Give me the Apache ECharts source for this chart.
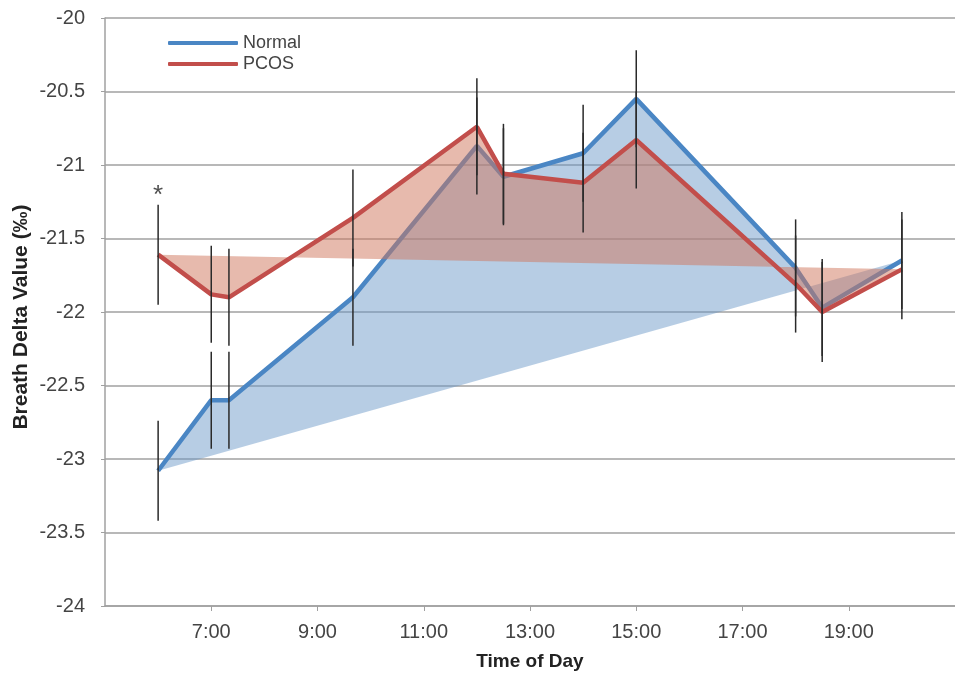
<!DOCTYPE html>
<html>
<head>
<meta charset="utf-8">
<script src="https://cdn.jsdelivr.net/npm/echarts@6/dist/echarts.min.js"></script>
<style>html,body{margin:0;padding:0;background:#fff;}#chart{width:955px;height:677px;}</style>
</head>
<body>
<div id="chart"></div>
<script>
// sampling times (hours of day)
var times = [6, 7, 7.333, 9.667, 12, 12.5, 14, 15, 18, 18.5, 20];
var normalValues = [-23.08, -22.60, -22.60, -21.90, -20.87, -21.08, -20.92, -20.55, -21.70, -21.97, -21.65];
var pcosValues   = [-21.61, -21.88, -21.90, -21.36, -20.74, -21.06, -21.12, -20.83, -21.81, -22.00, -21.71];
var normalErrors = [0.34, 0.33, 0.33, 0.33, 0.33, 0.33, 0.33, 0.33, 0.33, 0.33, 0.33];
var pcosErrors   = [0.34, 0.33, 0.33, 0.33, 0.33, 0.34, 0.34, 0.33, 0.33, 0.34, 0.34];
var yTicks = { min: -24, max: -20, step: 0.5 };
var xTicks = { min: 5, max: 21, step: 2 };
var annotations = [{ x: 6, y: -21.21, text: '*' }];

var FONT = '"Liberation Sans", Arial, sans-serif';
var BLUE = '#4a86c4', RED = '#c24e4b';
var BLUE_FILL = 'rgba(105,150,198,0.48)', RED_FILL = 'rgba(208,118,92,0.5)';

function pairs(xs, ys) { return xs.map(function (x, i) { return [x, ys[i]]; }); }
function errData(xs, ys, es) { return xs.map(function (x, i) { return [x, ys[i] - es[i], ys[i] + es[i]]; }); }

function polygonSeries(name, values, fill, z) {
  return {
    type: 'custom', name: name, z: z, silent: true,
    data: [[times[0], values[0]]],
    renderItem: function (params, api) {
      var pts = times.map(function (t, i) { return api.coord([t, values[i]]); });
      return { type: 'polygon', shape: { points: pts }, style: { fill: fill, stroke: null } };
    }
  };
}
function errorSeries(name, values, errs, z) {
  return {
    type: 'custom', name: name, z: z, silent: true,
    data: errData(times, values, errs),
    encode: { x: 0, y: [1, 2] },
    renderItem: function (params, api) {
      var a = api.coord([api.value(0), api.value(1)]);
      var b = api.coord([api.value(0), api.value(2)]);
      return { type: 'line', shape: { x1: a[0], y1: a[1], x2: b[0], y2: b[1] },
               style: { stroke: '#2a2a2a', lineWidth: 1.5 } };
    }
  };
}

var chart = echarts.init(document.getElementById('chart'), null, { renderer: 'canvas' });
chart.setOption({
  backgroundColor: '#fff',
  animation: false,
  grid: { left: 105, right: -5, top: 18, bottom: 71, containLabel: false },
  legend: {
    orient: 'vertical', left: 163, top: 29, itemWidth: 70, itemHeight: 4, itemGap: 3,
    icon: 'roundRect',
    data: ['Normal', 'PCOS'],
    textStyle: { fontFamily: FONT, fontSize: 18, color: '#444' }
  },
  xAxis: {
    type: 'value', min: xTicks.min, max: xTicks.max, interval: xTicks.step,
    name: 'Time of Day', nameLocation: 'middle', nameGap: 46,
    nameTextStyle: { fontFamily: FONT, fontSize: 19, fontWeight: 'bold', color: '#222' },
    axisLine: { show: true, lineStyle: { color: '#a0a0a0', width: 1.5 } },
    axisTick: { show: true, length: 5, lineStyle: { color: '#a0a0a0' } },
    axisLabel: { margin: 16, fontFamily: FONT, fontSize: 20, color: '#444', showMinLabel: false, showMaxLabel: false,
                 formatter: function (v) { return v + ':00'; } },
    splitLine: { show: false }
  },
  yAxis: {
    type: 'value', min: yTicks.min, max: yTicks.max, interval: yTicks.step,
    name: 'Breath Delta Value (‰)', nameLocation: 'middle', nameGap: 73, nameRotate: 90,
    nameMoveOverlap: false,
    nameTextStyle: { fontFamily: FONT, fontSize: 21, fontWeight: 'bold', color: '#222', padding: [0, 10, 0, 0] },
    axisLine: { show: true, lineStyle: { color: '#a0a0a0', width: 1.5 } },
    axisTick: { show: true, length: 4, lineStyle: { color: '#a0a0a0' } },
    axisLabel: { margin: 20, fontFamily: FONT, fontSize: 20, color: '#444' },
    splitLine: { show: true, lineStyle: { color: '#a0a0a0', width: 1.5 } }
  },
  series: [
    polygonSeries('NormalArea', normalValues, BLUE_FILL, 1),
    { type: 'line', name: 'Normal', z: 2, data: pairs(times, normalValues), showSymbol: false, symbol: 'none',
      lineStyle: { color: BLUE, width: 4.5 }, itemStyle: { color: BLUE } },
    polygonSeries('PCOSArea', pcosValues, RED_FILL, 3),
    { type: 'line', name: 'PCOS', z: 4, data: pairs(times, pcosValues), showSymbol: false, symbol: 'none',
      lineStyle: { color: RED, width: 4.5 }, itemStyle: { color: RED } },
    errorSeries('NormalErr', normalValues, normalErrors, 5),
    errorSeries('PCOSErr', pcosValues, pcosErrors, 5),
    { type: 'scatter', name: 'note', z: 6, symbolSize: 0, silent: true,
      data: annotations.map(function (a) { return { value: [a.x, a.y], label: { formatter: a.text } }; }),
      label: { show: true, position: 'inside', fontFamily: FONT, fontSize: 26, color: '#222' } }
  ]
});
</script>
</body>
</html>
